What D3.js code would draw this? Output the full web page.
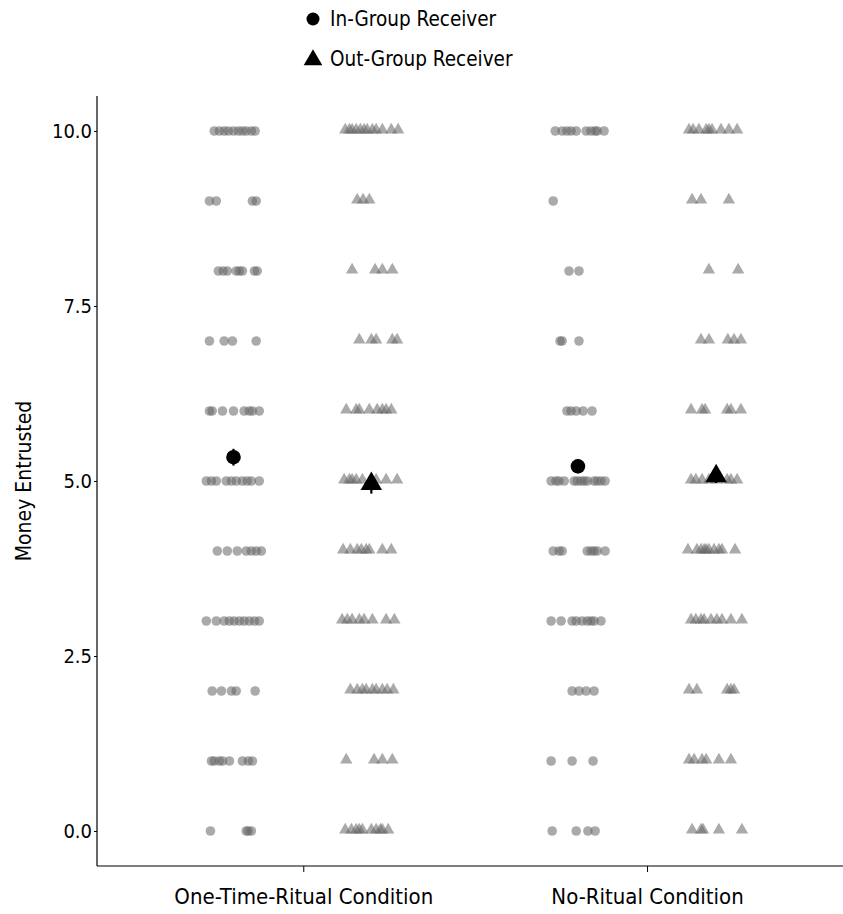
<!DOCTYPE html>
<html>
<head>
<meta charset="utf-8">
<script src="https://cdn.jsdelivr.net/npm/d3@7"></script>
<style>
  body { margin: 0; background: #fff; }
  svg text { font-family: "Liberation Sans Narrow", "DejaVu Sans Condensed", "Roboto Condensed", sans-serif; fill: #000; }
</style>
</head>
<body>
<div id="chart"></div>
<script>
// categories and ticks
var conditions = ["One-Time-Ritual Condition", "No-Ritual Condition"];
var yTicks = [0, 2.5, 5, 7.5, 10];
var legendLabels = ["In-Group Receiver", "Out-Group Receiver"];

// raw responses: [money, jittered x position]  (x: 0 = one-time ritual, 1 = no ritual)
var ritualIn = [
  [10,-0.259],[10,-0.244],[10,-0.230],[10,-0.218],[10,-0.203],[10,-0.189],[10,-0.177],[10,-0.166],[10,-0.151],[10,-0.140],
  [9,-0.273],[9,-0.253],[9,-0.148],[9,-0.137],
  [8,-0.247],[8,-0.233],[8,-0.221],[8,-0.195],[8,-0.186],[8,-0.177],[8,-0.142],[8,-0.134],
  [7,-0.273],[7,-0.230],[7,-0.206],[7,-0.137],
  [6,-0.273],[6,-0.265],[6,-0.235],[6,-0.203],[6,-0.172],[6,-0.157],[6,-0.148],[6,-0.128],
  [5,-0.282],[5,-0.267],[5,-0.253],[5,-0.224],[5,-0.209],[5,-0.195],[5,-0.177],[5,-0.163],[5,-0.151],[5,-0.128],
  [4,-0.250],[4,-0.221],[4,-0.192],[4,-0.166],[4,-0.151],[4,-0.137],[4,-0.122],
  [3,-0.282],[3,-0.253],[3,-0.230],[3,-0.215],[3,-0.201],[3,-0.186],[3,-0.172],[3,-0.157],[3,-0.142],[3,-0.128],
  [2,-0.265],[2,-0.238],[2,-0.209],[2,-0.195],[2,-0.140],
  [1,-0.267],[1,-0.259],[1,-0.244],[1,-0.235],[1,-0.215],[1,-0.177],[1,-0.160],[1,-0.148],
  [0,-0.270],[0,-0.166],[0,-0.160],[0,-0.151]
];
var ritualOut = [
  [10,0.122],[10,0.134],[10,0.142],[10,0.154],[10,0.166],[10,0.177],[10,0.186],[10,0.201],[10,0.212],[10,0.230],[10,0.256],[10,0.276],
  [9,0.157],[9,0.174],[9,0.192],
  [8,0.142],[8,0.209],[8,0.230],[8,0.259],
  [7,0.163],[7,0.198],[7,0.212],[7,0.259],[7,0.273],
  [6,0.125],[6,0.154],[6,0.163],[6,0.192],[6,0.215],[6,0.230],[6,0.241],[6,0.256],
  [5,0.119],[5,0.134],[5,0.142],[5,0.154],[5,0.172],[5,0.212],[5,0.241],[5,0.273],
  [4,0.116],[4,0.137],[4,0.157],[4,0.169],[4,0.183],[4,0.192],[4,0.230],[4,0.256],
  [3,0.113],[3,0.128],[3,0.142],[3,0.163],[3,0.177],[3,0.201],[3,0.241],[3,0.265],
  [2,0.137],[2,0.157],[2,0.172],[2,0.183],[2,0.201],[2,0.212],[2,0.230],[2,0.244],[2,0.262],
  [1,0.125],[1,0.206],[1,0.230],[1,0.259],
  [0,0.122],[0,0.140],[0,0.154],[0,0.163],[0,0.172],[0,0.198],[0,0.212],[0,0.224],[0,0.230],[0,0.247]
];
var noRitualIn = [
  [10,0.733],[10,0.753],[10,0.767],[10,0.779],[10,0.794],[10,0.823],[10,0.837],[10,0.849],[10,0.855],[10,0.875],
  [9,0.727],
  [8,0.773],[8,0.802],
  [7,0.747],[7,0.753],[7,0.802],
  [6,0.767],[6,0.779],[6,0.794],[6,0.814],[6,0.840],
  [5,0.721],[5,0.735],[5,0.744],[5,0.759],[5,0.788],[5,0.797],[5,0.808],[5,0.817],[5,0.826],[5,0.846],[5,0.855],[5,0.866],[5,0.878],
  [4,0.727],[4,0.744],[4,0.753],[4,0.826],[4,0.837],[4,0.846],[4,0.855],[4,0.878],
  [3,0.721],[3,0.750],[3,0.782],[3,0.794],[3,0.811],[3,0.826],[3,0.837],[3,0.846],[3,0.866],
  [2,0.782],[2,0.802],[2,0.823],[2,0.846],
  [1,0.721],[1,0.782],[1,0.843],
  [0,0.724],[0,0.794],[0,0.828],[0,0.849]
];
var noRitualOut = [
  [10,1.122],[10,1.134],[10,1.151],[10,1.172],[10,1.180],[10,1.189],[10,1.215],[10,1.238],[10,1.262],
  [9,1.131],[9,1.157],[9,1.238],
  [8,1.180],[8,1.265],
  [7,1.157],[7,1.180],[7,1.235],[7,1.253],[7,1.273],
  [6,1.128],[6,1.160],[6,1.169],[6,1.233],[6,1.244],[6,1.273],
  [5,1.128],[5,1.142],[5,1.160],[5,1.180],[5,1.201],[5,1.233],[5,1.244],[5,1.262],
  [4,1.119],[4,1.145],[4,1.157],[4,1.166],[4,1.172],[4,1.180],[4,1.195],[4,1.209],[4,1.218],[4,1.256],
  [3,1.128],[3,1.142],[3,1.157],[3,1.166],[3,1.186],[3,1.203],[3,1.218],[3,1.244],[3,1.276],
  [2,1.122],[2,1.145],[2,1.233],[2,1.244],[2,1.253],
  [1,1.122],[1,1.137],[1,1.160],[1,1.172],[1,1.209],[1,1.244],
  [0,1.131],[0,1.157],[0,1.163],[0,1.209],[0,1.276]
];

// group means: [x position, mean, error]
var inMeans = [[-0.203, 5.34, 0.12], [0.799, 5.21, 0.10]];
var outMeans = [[0.198, 4.96, 0.14], [1.201, 5.07, 0.10]];

var width = 843, height = 914;
var svg = d3.select("#chart").append("svg")
  .attr("width", width)
  .attr("height", height);

var x = d3.scaleLinear().domain([-0.6, 1.57]).range([97, 843]);
var y = d3.scaleLinear().domain([-0.5, 10.5]).range([866, 96]);

var dotFill = "#646464";
var dotOpacity = 0.55;

// jittered raw points
var pts = svg.append("g");
pts.selectAll("circle.raw")
  .data(ritualIn.concat(noRitualIn)).enter()
  .append("circle")
  .attr("class", "raw")
  .attr("cx", d => x(d[1]))
  .attr("cy", d => y(d[0]))
  .attr("r", 4.8)
  .style("fill", dotFill)
  .style("opacity", dotOpacity);

var triSmall = d3.symbol().type(d3.symbolTriangle).size(66);
pts.selectAll("path.raw")
  .data(ritualOut.concat(noRitualOut)).enter()
  .append("path")
  .attr("class", "raw")
  .attr("d", triSmall)
  .attr("transform", d => `translate(${x(d[1])},${y(d[0]) - 1})`)
  .style("fill", dotFill)
  .style("opacity", dotOpacity);

// means with error bars
var means = svg.append("g");
means.selectAll("line.ein")
  .data(inMeans.concat(outMeans)).enter()
  .append("line")
  .attr("x1", d => x(d[0])).attr("x2", d => x(d[0]))
  .attr("y1", d => y(d[1] - d[2])).attr("y2", d => y(d[1] + d[2]))
  .style("stroke", "#000")
  .style("stroke-width", 2.2);

means.selectAll("circle")
  .data(inMeans).enter()
  .append("circle")
  .attr("cx", d => x(d[0]))
  .attr("cy", d => y(d[1]))
  .attr("r", 7.3)
  .style("fill", "#000");

var triBig = d3.symbol().type(d3.symbolTriangle).size(200);
means.selectAll("path")
  .data(outMeans).enter()
  .append("path")
  .attr("d", triBig)
  .attr("transform", d => `translate(${x(d[0])},${y(d[1])})`)
  .style("fill", "#000");

// axes
var yAxis = d3.axisLeft(y).tickValues(yTicks).tickFormat(d3.format(".1f")).tickSize(3).tickPadding(2);
var gy = svg.append("g").attr("transform", "translate(97,0)").call(yAxis);
gy.select(".domain").attr("d", "M0,96V866").style("stroke-width", 1.2);
gy.selectAll("text").style("font-size", "20px");

var xAxis = d3.axisBottom(x).tickValues([0, 1]).tickFormat((d, i) => conditions[i]).tickSize(6).tickPadding(16);
var gx = svg.append("g").attr("transform", "translate(0,866)").call(xAxis);
gx.select(".domain").attr("d", "M97,0H843").style("stroke-width", 1.2);
gx.selectAll("text").style("font-size", "22px");

svg.append("text")
  .attr("transform", "translate(31,481) rotate(-90)")
  .attr("text-anchor", "middle")
  .style("font-size", "21px")
  .text("Money Entrusted");

// legend
var legend = svg.append("g").attr("transform", "translate(313,0)");
legend.append("circle").attr("cx", 0).attr("cy", 19).attr("r", 6.5).style("fill", "#000");
legend.append("path")
  .attr("d", d3.symbol().type(d3.symbolTriangle).size(150))
  .attr("transform", "translate(0,60)")
  .style("fill", "#000");
legend.selectAll("text.leg")
  .data(legendLabels).enter()
  .append("text")
  .attr("class", "leg")
  .attr("x", 17)
  .attr("y", (d, i) => 19 + i * 40)
  .attr("dy", "0.35em")
  .style("font-size", "20.5px")
  .text(d => d);
</script>
</body>
</html>
